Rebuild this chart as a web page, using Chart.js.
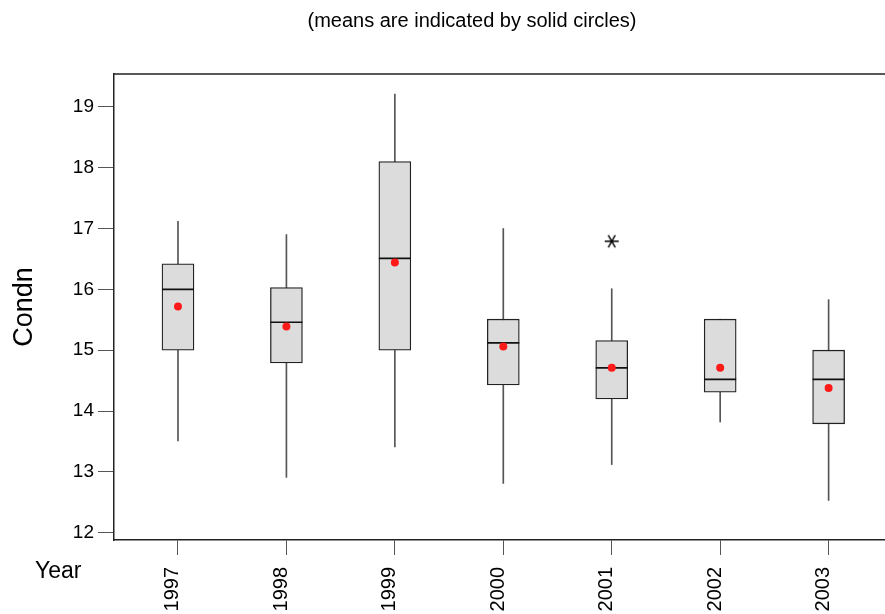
<!DOCTYPE html>
<html>
<head>
<meta charset="utf-8">
<title>Condn by Year</title>
<script src="https://cdn.jsdelivr.net/npm/chart.js@4.4.0/dist/chart.umd.min.js"></script>
<style>
  html, body { margin: 0; padding: 0; background: #fff; }
</style>
</head>
<body>
<canvas id="chart" width="885" height="614"></canvas>
<script>
// values
const years = ['1997', '1998', '1999', '2000', '2001', '2002', '2003'];
const whiskerLow = [13.51, 12.91, 13.41, 12.81, 13.12, 13.82, 12.53];
const q1 = [15.0, 14.79, 15.0, 14.43, 14.2, 14.31, 13.79];
const median = [16.0, 15.46, 16.51, 15.12, 14.71, 14.52, 14.52];
const q3 = [16.42, 16.03, 18.1, 15.51, 15.16, 15.51, 15.0];
const whiskerHigh = [17.12, 16.9, 19.21, 17.0, 16.01, 15.51, 15.83];
const means = [15.72, 15.39, 16.44, 15.06, 14.71, 14.71, 14.38];
const outlierYears = ['2001'];
const outlierValues = [16.79];
const yTicks = [12, 13, 14, 15, 16, 17, 18, 19];

const FONT = "'Liberation Sans', Arial, Helvetica, sans-serif";
const subtitle = '(means are indicated by solid circles)';

// 6-armed asterisk used for the outlier
function makeStar() {
    const c = document.createElement('canvas');
    c.width = 16; c.height = 16;
    const g = c.getContext('2d');
    g.strokeStyle = '#000';
    g.lineWidth = 1.4;
    g.beginPath();
    [0, 60, 120].forEach(deg => {
        const r = deg * Math.PI / 180;
        g.moveTo(8 - Math.cos(r) * 7, 8 - Math.sin(r) * 7);
        g.lineTo(8 + Math.cos(r) * 7, 8 + Math.sin(r) * 7);
    });
    g.stroke();
    return c;
}

const xOf = i => i + 1;

const extras = {
    id: 'extras',
    afterDraw(chart) {
        const { ctx, chartArea } = chart;
        ctx.save();
        ctx.strokeStyle = '#222';
        ctx.lineWidth = 1.5;
        ctx.beginPath();
        ctx.moveTo(chartArea.left, chartArea.top);
        ctx.lineTo(chartArea.right, chartArea.top);
        ctx.stroke();

        ctx.fillStyle = '#000';
        ctx.font = '20px ' + FONT;
        ctx.textAlign = 'center';
        ctx.textBaseline = 'middle';
        ctx.fillText(subtitle, 472, 21);

        ctx.font = '23px ' + FONT;
        ctx.textAlign = 'left';
        ctx.textBaseline = 'alphabetic';
        ctx.fillText('Year', 35, 578);
        ctx.restore();
    }
};

new Chart(document.getElementById('chart'), {
    type: 'bar',
    data: {
        datasets: [
            {
                label: 'whiskers',
                data: years.map((y, i) => ({ x: xOf(i), y: [whiskerLow[i], whiskerHigh[i]] })),
                backgroundColor: '#555',
                borderWidth: 0,
                barThickness: 1,
                grouped: false,
                order: 5
            },
            {
                label: 'boxes',
                data: years.map((y, i) => ({ x: xOf(i), y: [q1[i], q3[i]] })),
                backgroundColor: '#dcdcdc',
                borderColor: '#222',
                borderWidth: 1.3,
                borderSkipped: false,
                barThickness: 32,
                grouped: false,
                order: 4
            },
            {
                type: 'scatter',
                label: 'median',
                data: years.map((y, i) => ({ x: xOf(i), y: median[i] })),
                pointStyle: 'line',
                pointRadius: 16,
                borderColor: '#111',
                borderWidth: 1.6,
                order: 2
            },
            {
                type: 'scatter',
                label: 'mean',
                data: years.map((y, i) => ({ x: xOf(i), y: means[i] })),
                pointStyle: 'circle',
                pointRadius: 4,
                backgroundColor: '#ff1a1a',
                borderWidth: 0,
                order: 1
            },
            {
                type: 'scatter',
                label: 'outlier',
                data: outlierYears.map((y, i) => ({ x: xOf(years.indexOf(y)), y: outlierValues[i] })),
                pointStyle: makeStar(),
                order: 1
            }
        ]
    },
    options: {
        responsive: false,
        animation: false,
        devicePixelRatio: 1,
        layout: { autoPadding: false, padding: { top: 74, left: 0, right: 0, bottom: 0 } },
        plugins: {
            legend: { display: false },
            tooltip: { enabled: false }
        },
        scales: {
            x: {
                type: 'linear',
                min: 0.41,
                max: 7.52,
                offset: false,
                afterBuildTicks: s => { s.ticks = years.map((y, i) => ({ value: xOf(i) })); },
                afterFit: s => { s.height = 74; s.paddingLeft = 0; s.paddingRight = 0; },
                grid: { drawOnChartArea: false, drawTicks: true, tickLength: 15, color: '#555', offset: false },
                border: { display: true, color: '#222', width: 1.5 },
                ticks: {
                    callback: v => years[Math.round(v) - 1],
                    minRotation: 90,
                    maxRotation: 90,
                    autoSkip: false,
                    padding: 12,
                    labelOffset: -5,
                    color: '#000',
                    font: { family: FONT, size: 20 }
                }
            },
            y: {
                min: 11.88,
                max: 19.54,
                beginAtZero: false,
                afterBuildTicks: s => { s.ticks = yTicks.map(v => ({ value: v })); },
                afterFit: s => { s.width = 114; s.paddingTop = 0; s.paddingBottom = 0; },
                grid: { drawOnChartArea: false, drawTicks: true, tickLength: 16, color: '#555' },
                border: { display: true, color: '#222', width: 1.5 },
                ticks: { padding: 4, color: '#000', font: { family: FONT, size: 19 } },
                title: {
                    display: true,
                    text: 'Condn',
                    color: '#000',
                    font: { family: FONT, size: 27 },
                    padding: { top: 8, bottom: 0 }
                }
            }
        }
    },
    plugins: [extras]
});
</script>
</body>
</html>
